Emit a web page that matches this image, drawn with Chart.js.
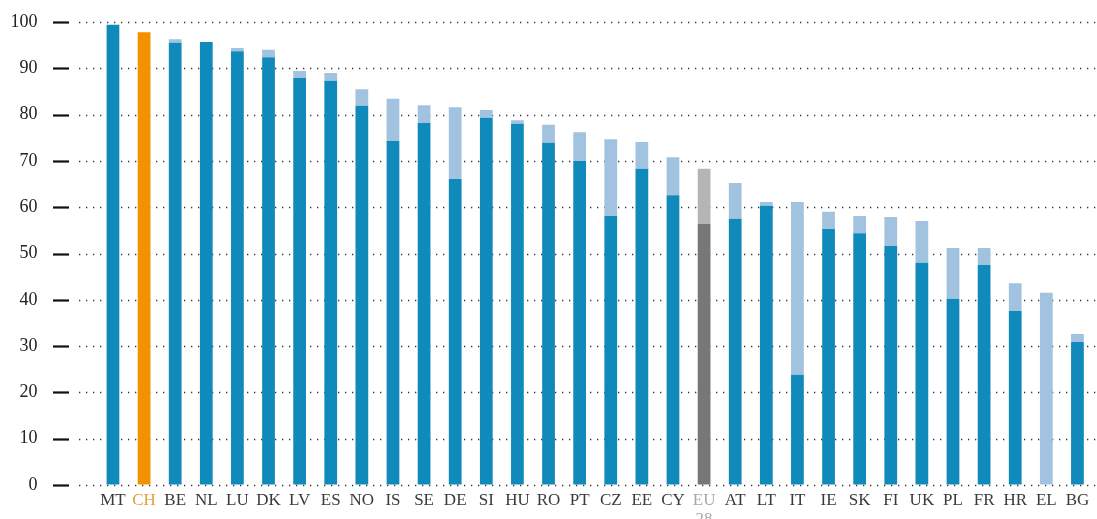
<!DOCTYPE html>
<html>
<head>
<meta charset="utf-8">
<script src="https://cdn.jsdelivr.net/npm/chart.js@4/dist/chart.umd.min.js"></script>
<style>
  html, body { margin: 0; padding: 0; background: #fff; }
  #wrap { width: 1097px; height: 519px; }
</style>
</head>
<body>
<div id="wrap"><canvas id="chart"></canvas></div>
<script>
// categories, in the order drawn
const countries = ["MT", "CH", "BE", "NL", "LU", "DK", "LV", "ES", "NO", "IS", "SE", "DE", "SI", "HU", "RO", "PT",
  "CZ", "EE", "CY", "EU 28", "AT", "LT", "IT", "IE", "SK", "FI", "UK", "PL", "FR", "HR", "EL", "BG"];

// dark (lower) segment
const baseValues = [99.4, 97.8, 95.5, 95.7, 93.7, 92.4, 87.9, 87.3, 81.9, 74.3, 78.2, 66.1, 79.3, 78.0, 73.9, 70.0,
  58.1, 68.3, 62.6, 56.4, 57.5, 60.3, 23.8, 55.3, 54.4, 51.6, 48.0, 40.2, 47.5, 37.6, 0, 30.9];

// full bar height (dark + light segment)
const totalValues = [99.4, 97.8, 96.3, 95.7, 94.4, 94.0, 89.4, 89.0, 85.5, 83.4, 82.0, 81.6, 81.0, 78.8, 77.8, 76.2,
  74.7, 74.1, 70.8, 68.3, 65.2, 61.1, 61.1, 59.0, 58.1, 57.9, 57.0, 51.2, 51.2, 43.6, 41.5, 32.6];

const yTicks = [0, 10, 20, 30, 40, 50, 60, 70, 80, 90, 100];

const topValues = totalValues.map((t, i) => +(t - baseValues[i]).toFixed(1));

const BLUE = "#0f8aba";
const LIGHT_BLUE = "#a2c3df";

const darkColors = countries.map(c => c === "CH" ? "#f29200" : (c === "EU 28" ? "#777777" : BLUE));
const lightColors = countries.map(c => c === "EU 28" ? "#b5b5b5" : LIGHT_BLUE);
const labelColors = countries.map(c => c === "CH" ? "#e0a23c" : (c === "EU 28" ? "#a8a8a8" : "#3a3a3a"));

// dotted grid + short tick dashes on the left, drawn off the y scale
const gridPlugin = {
  id: "dottedGrid",
  beforeDatasetsDraw(chart) {
    const ctx = chart.ctx;
    const y = chart.scales.y;
    ctx.save();
    yTicks.forEach(v => {
      const py = Math.round(y.getPixelForValue(v)) + 0.5;
      ctx.strokeStyle = "#333";
      ctx.lineWidth = 1.3;
      ctx.setLineDash([1.3, 5.7]);
      ctx.beginPath();
      ctx.moveTo(79, py);
      ctx.lineTo(chart.width, py);
      ctx.stroke();

      ctx.setLineDash([]);
      ctx.strokeStyle = "#111";
      ctx.lineWidth = 2.2;
      ctx.beginPath();
      ctx.moveTo(53, py);
      ctx.lineTo(69, py);
      ctx.stroke();
    });
    ctx.restore();
  }
};

new Chart(document.getElementById("chart"), {
  type: "bar",
  data: {
    labels: countries.map(c => c === "EU 28" ? ["EU", "28"] : c),
    datasets: [
      { label: "base", data: baseValues, backgroundColor: darkColors },
      { label: "top", data: topValues, backgroundColor: lightColors }
    ]
  },
  options: {
    responsive: true,
    maintainAspectRatio: false,
    animation: false,
    layout: { padding: { top: 22, right: 4, left: 0, bottom: 0 } },
    datasets: {
      bar: { barPercentage: 1, categoryPercentage: 0.41, borderWidth: 0 }
    },
    plugins: {
      legend: { display: false },
      tooltip: { enabled: false }
    },
    scales: {
      x: {
        stacked: true,
        grid: { display: false },
        border: { display: false },
        afterFit: (scale) => { scale.height = 34; },
        ticks: {
          autoSkip: false,
          maxRotation: 0,
          padding: -2,
          color: (ctx) => labelColors[ctx.index],
          font: { family: "Liberation Serif", size: 17, lineHeight: 1.12 }
        }
      },
      y: {
        stacked: true,
        min: 0,
        max: 100,
        afterFit: (scale) => { scale.width = 97.4; },
        afterBuildTicks: (scale) => { scale.ticks = yTicks.map(v => ({ value: v })); },
        // invisible tick marks just push the labels out to the left
        grid: { display: true, drawOnChartArea: false, drawTicks: true, tickLength: 57, tickColor: "rgba(0,0,0,0)" },
        border: { display: false },
        ticks: {
          padding: 3,
          color: "#222",
          font: { family: "Liberation Serif", size: 18 }
        }
      }
    }
  },
  plugins: [gridPlugin]
});
</script>
</body>
</html>
